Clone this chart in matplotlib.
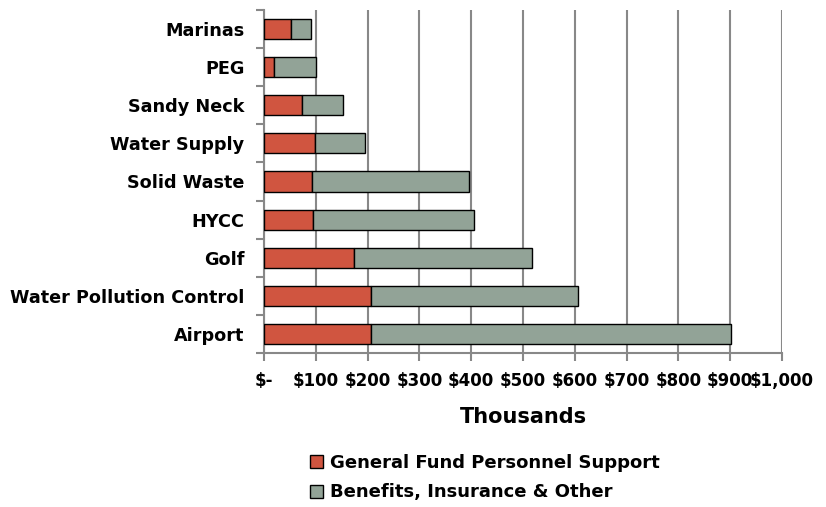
import matplotlib
matplotlib.use("Agg")
import matplotlib.pyplot as plt
import numpy as np
from matplotlib.ticker import FixedLocator

categories = ["Marinas", "PEG", "Sandy Neck", "Water Supply", "Solid Waste",
              "HYCC", "Golf", "Water Pollution Control", "Airport"]
general_fund = [52, 20, 74, 99, 92, 94, 174, 206, 206]
totals = [91, 101, 152, 195, 396, 406, 518, 606, 901]
benefits = [t - g for t, g in zip(totals, general_fund)]
xticks = [0, 100, 200, 300, 400, 500, 600, 700, 800, 900, 1000]
xticklabels = ["$-", "$100", "$200", "$300", "$400", "$500", "$600", "$700", "$800", "$900", "$1,000"]

plt.rcParams['font.family'] = ['DejaVu Sans']

fig = plt.figure(figsize=(8.26, 5.07), dpi=100)
ax = fig.add_axes([264/826, 1-353/507, (782-264)/826, 343/507])

red = "#D05540"
grey = "#92A397"
y = np.arange(len(categories))[::-1]
ax.barh(y, general_fund, height=0.53, color=red, edgecolor="black", linewidth=1.0,
        label="General Fund Personnel Support", zorder=3)
ax.barh(y, benefits, left=general_fund, height=0.53, color=grey, edgecolor="black",
        linewidth=1.0, label="Benefits, Insurance & Other", zorder=3)

ax.set_xlim(0, 1000)
ax.set_ylim(-0.5, len(categories) - 0.5)
ax.set_xticks(xticks)
ax.set_xticklabels(xticklabels, fontsize=12, fontweight="bold")
ax.set_yticks(y)
ax.set_yticklabels(categories, fontsize=12.7, fontweight="bold")
ax.yaxis.set_minor_locator(FixedLocator(np.arange(-0.5, len(categories), 1.0)))
ax.tick_params(axis="y", which="major", length=0, pad=14)
ax.tick_params(axis="y", which="minor", length=6, width=1.5, color="#888888")
ax.tick_params(axis="x", which="major", length=6, width=1.5, color="#888888", pad=8)
ax.xaxis.grid(True, color="#888888", linewidth=1.5, zorder=0)
for s in ["top", "right"]:
    ax.spines[s].set_visible(False)
ax.spines["left"].set_color("#888888")
ax.spines["left"].set_linewidth(1.5)
ax.spines["bottom"].set_color("#888888")
ax.spines["bottom"].set_linewidth(1.5)
ax.set_xlabel("Thousands", fontsize=15, fontweight="bold", labelpad=12)

leg = fig.legend(loc="center", bbox_to_anchor=(0.587, 0.058), ncol=1, frameon=False,
                 prop={"size": 13, "weight": "bold"}, handlelength=0.75, handleheight=0.75,
                 handletextpad=0.4, labelspacing=0.65)

fig.savefig("out.png", dpi=100)
